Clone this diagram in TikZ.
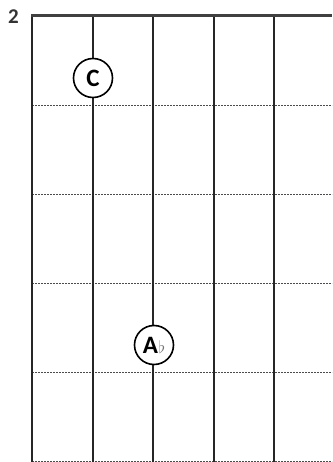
\documentclass[tikz,border=0pt]{standalone}
\usepackage{fontspec}
\setmainfont{Carlito}
\usepackage{tikz}

\tikzset{
  notecircle/.style={draw,circle,line width=1.6pt,fill=white,minimum size=39pt,inner sep=0pt,font=\bfseries\fontsize{25}{27}\selectfont},
  fretline/.style={dash pattern=on 2pt off 1pt,line width=0.8pt,gray!60!black},
  stringline/.style={line width=1.8pt,black!85}
}

\begin{document}
\begin{tikzpicture}[x=1pt,y=-1pt]
\useasboundingbox (0,0) rectangle (332,462);
% frets
\foreach \y in {105,194,283,372,461}
  \draw[fretline] (32,\y) -- (332,\y);
% strings
\foreach \x in {32,93,153,214,274}
  \draw[stringline] (\x,16) -- (\x,462);
\draw[line width=3pt,black!75] (31,16) -- (332,16);
\node[font=\bfseries\fontsize{21}{23}\selectfont,black!80] (fret) at (13.5,17) {2};
% notes
\node[notecircle] (c) at (93,78) {C};
\node[notecircle] (aflat) at (154,345) {A\kern0.5pt{\color{black!55}\mdseries\fontsize{19}{21}\selectfont$\flat$}};
\end{tikzpicture}
\end{document}
